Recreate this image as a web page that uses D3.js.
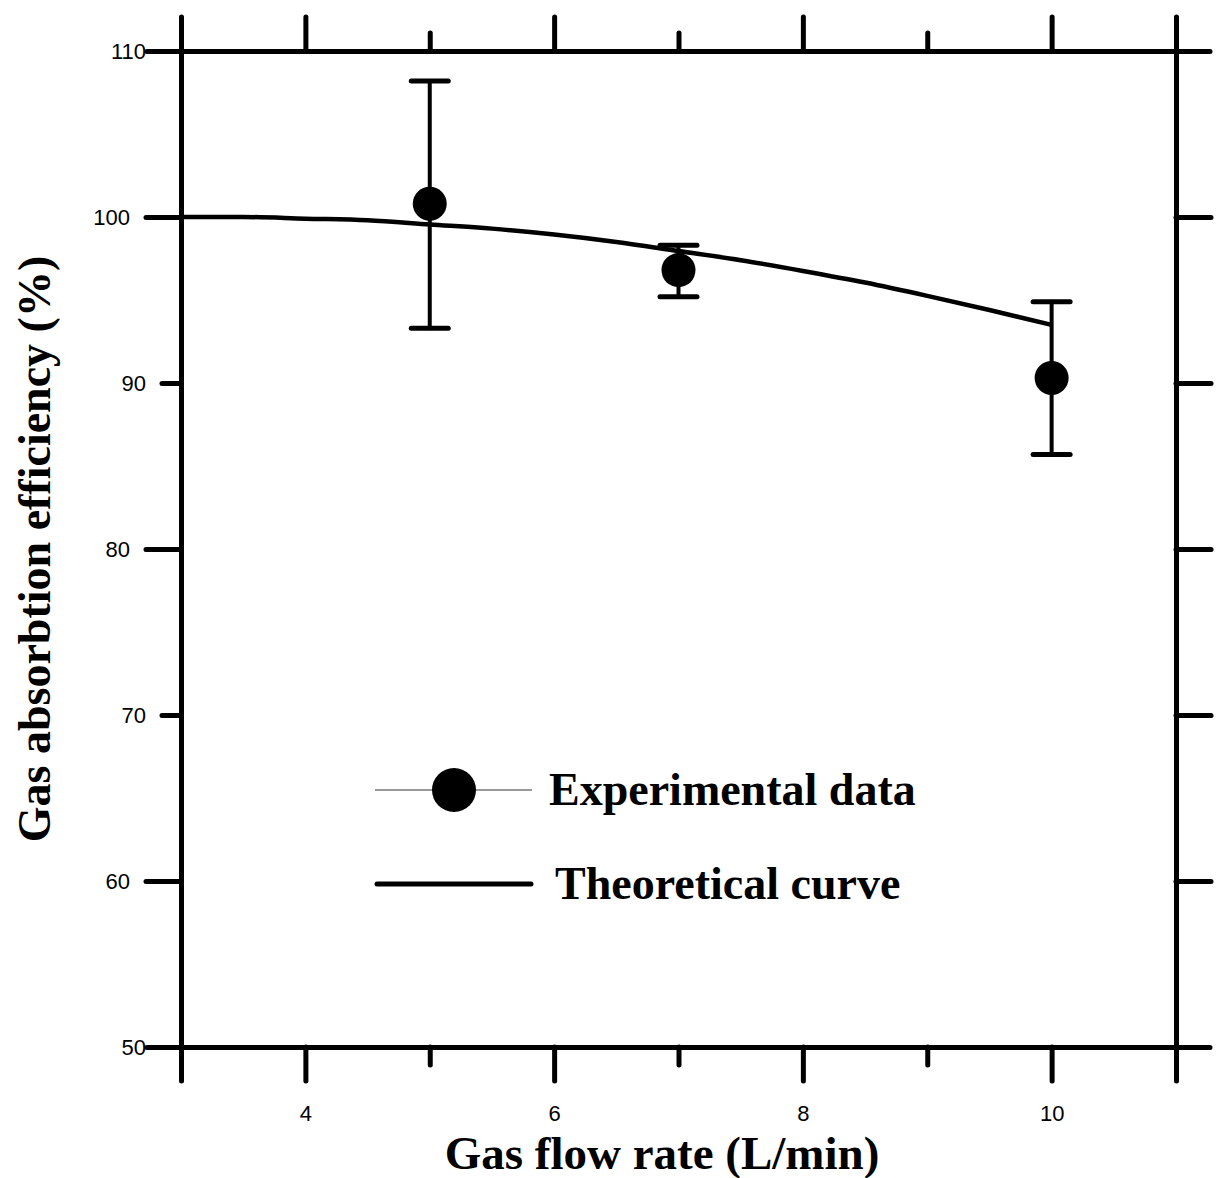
<!DOCTYPE html>
<html>
<head>
<meta charset="utf-8">
<script src="https://cdn.jsdelivr.net/npm/d3@7"></script>
<style>
  html, body { margin: 0; padding: 0; background: #fff; }
  svg { display: block; }
</style>
</head>
<body>
<svg id="chart" width="1216" height="1178"></svg>
<script>
// ---- data ----
const expX = [5, 7, 10];
const expY = [100.8, 96.8, 90.3];
const expHi = [108.2, 98.3, 94.9];
const expLo = [93.3, 95.2, 85.7];

const curveX = [3, 3.5, 4, 4.5, 5, 5.5, 6, 6.5, 7, 7.5, 8, 8.5, 9, 9.5, 10];
const curveY = [100, 100, 99.9, 99.8, 99.55, 99.3, 98.95, 98.5, 97.95, 97.4, 96.75, 96.05, 95.25, 94.4, 93.5];

const xTicks = [3, 4, 5, 6, 7, 8, 9, 10, 11];
const xMajor = [4, 6, 8, 10];
const yTicks = [50, 60, 70, 80, 90, 100, 110];
const yMajorLeft = [60, 80, 100];
const yMajorRight = [60, 70, 80, 90, 100];

const xTitle = "Gas flow rate (L/min)";
const yTitle = "Gas absorbtion efficiency (%)";
const legendLabels = ["Experimental data", "Theoretical curve"];

// ---- layout ----
const L = 181, R = 1176, T = 51, B = 1047;
const LONG = 34, SHORT = 18;
const svg = d3.select("#chart");
const x = d3.scaleLinear().domain([3, 11]).range([L, R]);
const y = d3.scaleLinear().domain([50, 110]).range([B, T]);

const tickFont = "'Liberation Sans', Arial, sans-serif";
const titleFont = "'Liberation Serif', 'Times New Roman', serif";

function styleAxis(g) {
  g.select(".domain").attr("stroke", "#000").attr("stroke-width", 5).attr("stroke-linecap", "round");
  g.selectAll(".tick line").attr("stroke", "#000").attr("stroke-width", 5).attr("stroke-linecap", "round");
}

// bottom
const gB = svg.append("g").attr("transform", `translate(0,${B})`)
  .call(d3.axisBottom(x).tickValues(xTicks).tickSizeOuter(0).tickSize(LONG).tickFormat(d3.format("d")));
styleAxis(gB);
gB.selectAll(".tick").each(function(d) {
  const major = xMajor.includes(d);
  d3.select(this).select("line").attr("y2", major ? LONG : SHORT);
  d3.select(this).select("text")
    .attr("y", 74).attr("dy", 0)
    .style("display", major ? null : "none")
    .attr("font-family", tickFont).attr("font-size", 22).attr("fill", "#000");
});

// top
const gT = svg.append("g").attr("transform", `translate(0,${T})`)
  .call(d3.axisTop(x).tickValues(xTicks).tickSizeOuter(0).tickSize(LONG).tickFormat(""));
styleAxis(gT);
gT.selectAll(".tick").each(function(d) {
  d3.select(this).select("line").attr("y2", xMajor.includes(d) ? -LONG : -SHORT);
});

// left
const gL = svg.append("g").attr("transform", `translate(${L},0)`)
  .call(d3.axisLeft(y).tickValues(yTicks).tickSizeOuter(0).tickSize(LONG).tickFormat(d3.format("d")));
styleAxis(gL);
gL.selectAll(".tick").each(function(d) {
  const len = yMajorLeft.includes(d) ? LONG + 1 : SHORT + 1;
  d3.select(this).select("line").attr("x2", -len);
  d3.select(this).select("text")
    .attr("x", -len - 16).attr("dy", "0.36em")
    .attr("font-family", tickFont).attr("font-size", 22).attr("fill", "#000");
});

// right
const gR = svg.append("g").attr("transform", `translate(${R},0)`)
  .call(d3.axisRight(y).tickValues(yTicks).tickSizeOuter(0).tickSize(LONG).tickFormat(""));
styleAxis(gR);
gR.selectAll(".tick").each(function(d) {
  d3.select(this).select("line").attr("x2", yMajorRight.includes(d) ? LONG + 1 : SHORT + 1);
});

// theoretical curve
const curveData = curveX.map((v, i) => [v, curveY[i]]);
svg.append("path")
  .datum(curveData)
  .attr("fill", "none").attr("stroke", "#000").attr("stroke-width", 4.5)
  .attr("d", d3.line().x(d => x(d[0])).y(d => y(d[1])).curve(d3.curveMonotoneX));

// error bars + points
const pts = expX.map((v, i) => ({ x: v, y: expY[i], hi: expHi[i], lo: expLo[i] }));
const capW = 18.5;
const eb = svg.append("g").attr("stroke", "#000").attr("stroke-linecap", "round");
eb.selectAll("line.stem").data(pts).join("line").attr("class", "stem")
  .attr("x1", d => x(d.x)).attr("x2", d => x(d.x))
  .attr("y1", d => y(d.hi)).attr("y2", d => y(d.lo)).attr("stroke-width", 4);
eb.selectAll("line.capHi").data(pts).join("line").attr("class", "capHi")
  .attr("x1", d => x(d.x) - capW).attr("x2", d => x(d.x) + capW)
  .attr("y1", d => y(d.hi)).attr("y2", d => y(d.hi)).attr("stroke-width", 5);
eb.selectAll("line.capLo").data(pts).join("line").attr("class", "capLo")
  .attr("x1", d => x(d.x) - capW).attr("x2", d => x(d.x) + capW)
  .attr("y1", d => y(d.lo)).attr("y2", d => y(d.lo)).attr("stroke-width", 5);
svg.append("g").selectAll("circle").data(pts).join("circle")
  .attr("cx", d => x(d.x)).attr("cy", d => y(d.y)).attr("r", 17).attr("fill", "#000");

// legend
const lg = svg.append("g");
lg.append("line").attr("x1", 375).attr("x2", 532).attr("y1", 790).attr("y2", 790)
  .attr("stroke", "#777").attr("stroke-width", 1.5);
lg.append("circle").attr("cx", 454).attr("cy", 790).attr("r", 22).attr("fill", "#000");
lg.append("text").attr("x", 549).attr("y", 805).text(legendLabels[0])
  .attr("font-family", titleFont).attr("font-weight", "bold").attr("font-size", 46);
lg.append("line").attr("x1", 377).attr("x2", 531).attr("y1", 884).attr("y2", 884)
  .attr("stroke", "#000").attr("stroke-width", 5).attr("stroke-linecap", "round");
lg.append("text").attr("x", 555).attr("y", 899).text(legendLabels[1])
  .attr("font-family", titleFont).attr("font-weight", "bold").attr("font-size", 46);

// axis titles
svg.append("text").attr("x", 662).attr("y", 1169).attr("text-anchor", "middle")
  .attr("font-family", titleFont).attr("font-weight", "bold").attr("font-size", 47)
  .text(xTitle);
svg.append("text").attr("transform", `translate(50,${(T + B) / 2}) rotate(-90)`)
  .attr("text-anchor", "middle")
  .attr("font-family", titleFont).attr("font-weight", "bold").attr("font-size", 46)
  .text(yTitle);
</script>
</body>
</html>
